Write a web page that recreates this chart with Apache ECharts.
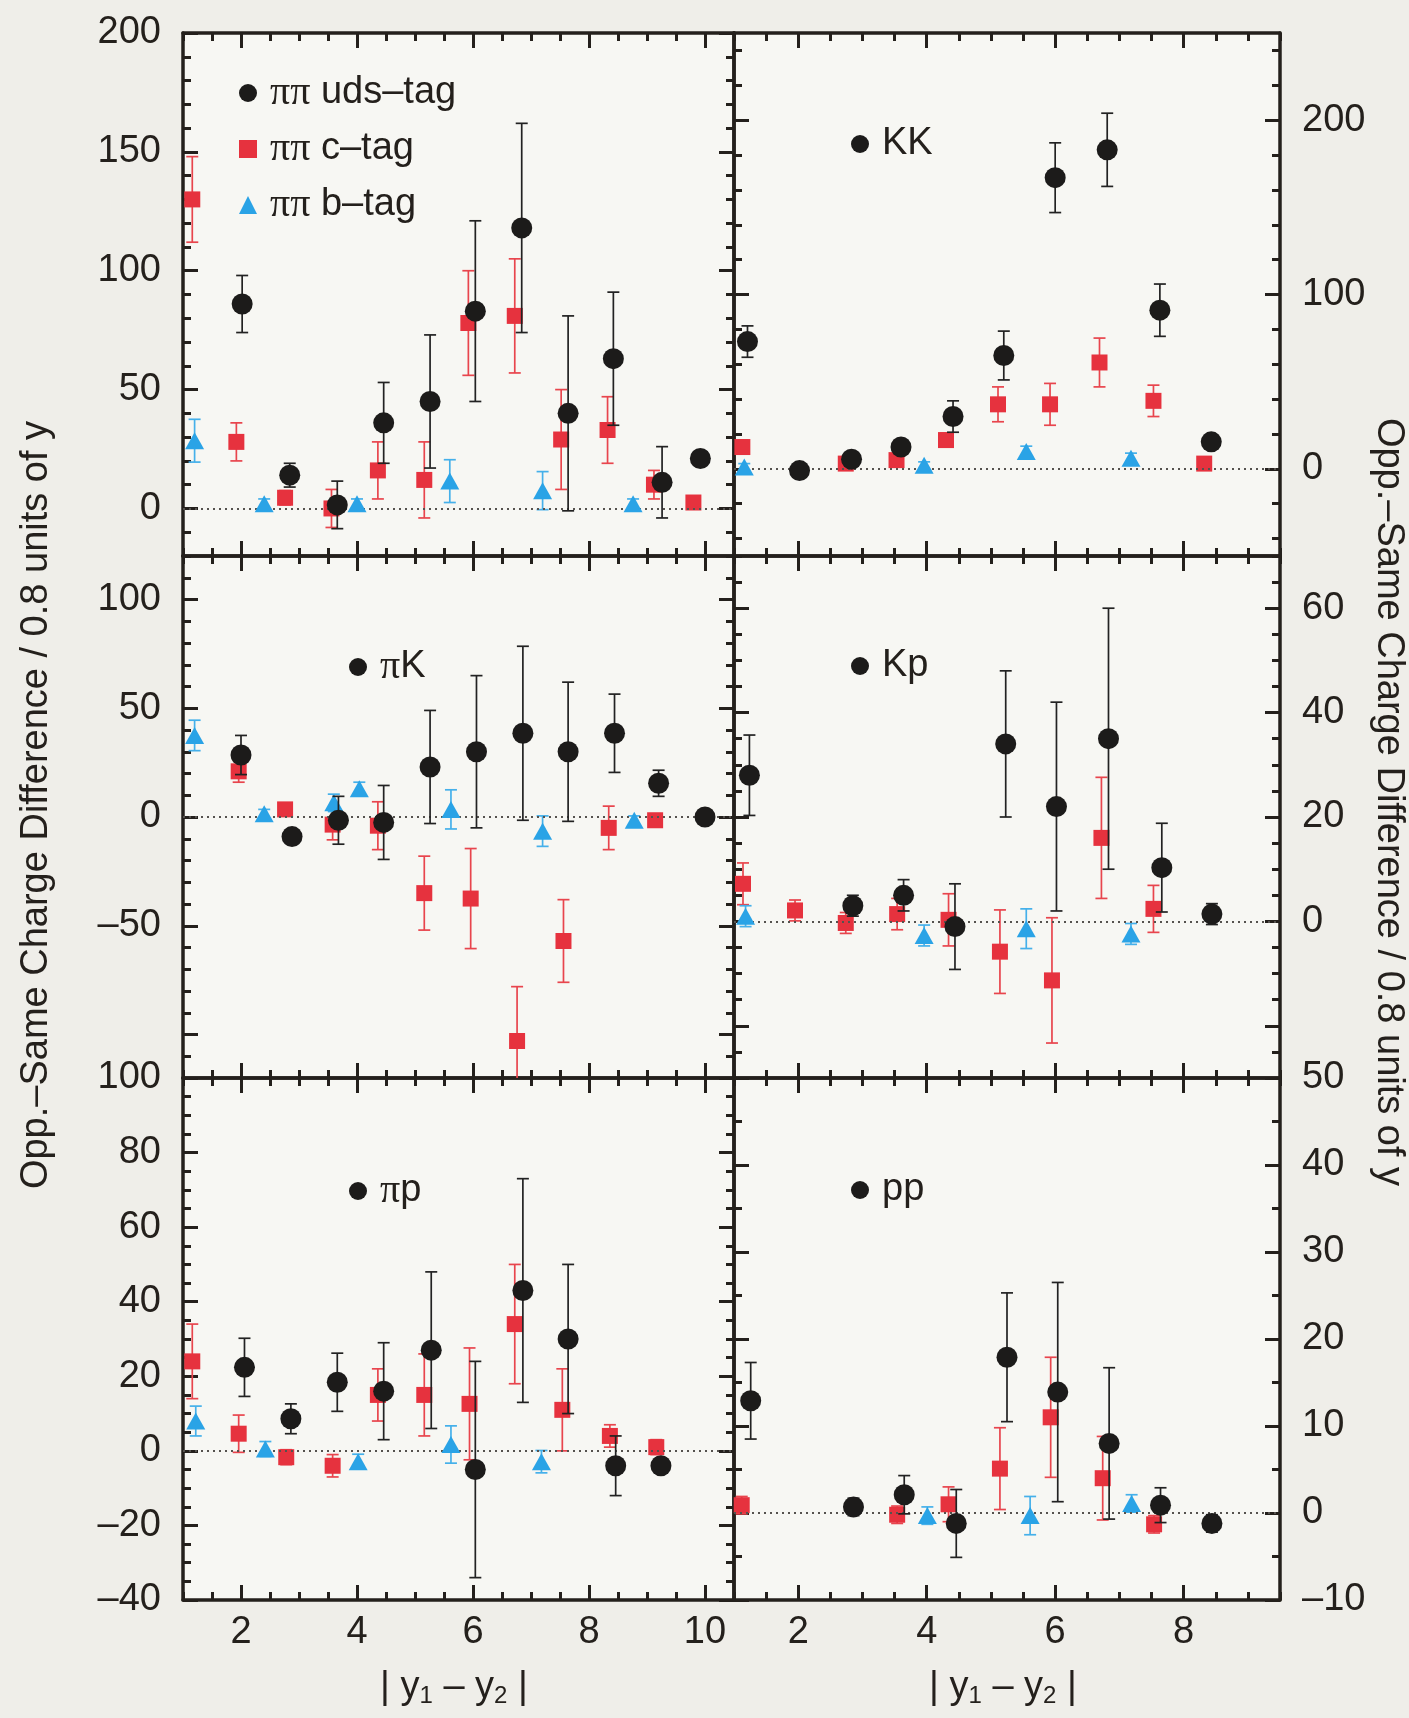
<!DOCTYPE html>
<html>
<head>
<meta charset="utf-8">
<script src="https://cdn.jsdelivr.net/npm/echarts@6/dist/echarts.min.js"></script>
<style>
  html, body { margin: 0; padding: 0; background: #efeee9; }
  #chart { width: 1409px; height: 1718px; }
</style>
</head>
<body>
<div id="chart"></div>
<script>
// Each point: [ |y1 - y2| , Opp.-Same charge difference , error ]

// pi pi pairs, split by event flavour tag
const pipiUds = [[2.02, 86, 12], [2.84, 14, 5], [3.66, 1.5, 10], [4.46, 36, 17], [5.26, 45, 28], [6.04, 83, 38],
                 [6.84, 118, 44], [7.64, 40, 41], [8.42, 63, 28], [9.26, 11, 15], [9.92, 21, 3]];
const pipiC   = [[1.16, 130, 18], [1.92, 28, 8], [2.76, 4.5, 3], [3.56, 0, 8], [4.36, 16, 12], [5.16, 12, 16],
                 [5.92, 78, 22], [6.72, 81, 24], [7.52, 29, 21], [8.32, 33, 14], [9.12, 10, 6], [9.80, 2.5, 2]];
const pipiB   = [[1.2, 28.5, 9], [2.4, 2, 2], [4.0, 2, 2], [5.6, 11.5, 9], [7.2, 7.5, 8], [8.76, 2, 2]];

// K K
const kkUds = [[1.21, 73, 9], [2.02, -1, 3], [2.83, 5.5, 3], [3.6, 12.5, 4], [4.41, 30, 9], [5.2, 65, 14],
               [6.0, 167, 20], [6.81, 183, 21], [7.63, 91, 15], [8.43, 15.5, 3]];
const kkC   = [[1.13, 12.5, 4], [2.74, 3, 3], [3.53, 5, 3], [4.3, 16.5, 4], [5.11, 37, 10], [5.92, 37, 12],
               [6.69, 61, 14], [7.53, 39, 9], [8.32, 3, 3]];
const kkB   = [[1.16, 1, 2], [3.96, 2, 2], [5.55, 10, 3], [7.18, 6, 3]];

// pi K
const piKUds = [[2.0, 28.5, 9], [2.88, -9, 3], [3.68, -1.5, 11], [4.46, -2.5, 17], [5.26, 23, 26], [6.06, 30, 35],
                [6.86, 38.5, 40], [7.64, 30, 32], [8.44, 38.5, 18], [9.2, 15.5, 6], [10.0, 0, 2]];
const piKC   = [[1.96, 21, 5], [2.76, 3.5, 3], [3.58, -3.5, 7], [4.36, -4, 11], [5.16, -35, 17], [5.96, -37.5, 23],
                [6.76, -103, 25], [7.56, -57, 19], [8.34, -5, 10], [9.14, -1.5, 3]];
const piKB   = [[1.2, 37.5, 7], [2.4, 1.5, 2], [3.6, 6.5, 4], [4.04, 13, 3], [5.62, 3.5, 9], [7.2, -6.5, 7], [8.78, -1.5, 2]];

// K p
const kpUds = [[1.24, 28, 7.7], [2.85, 3, 2], [3.64, 5, 3], [4.44, -1, 8.2], [5.23, 34, 14], [6.02, 22, 20],
               [6.83, 35, 25], [7.66, 10.3, 8.5], [8.44, 1.4, 2]];
const kpC   = [[1.14, 7.2, 4], [1.95, 2.1, 2], [2.74, -0.3, 2], [3.54, 1.4, 3], [4.34, 0.3, 5], [5.14, -5.8, 8],
               [5.95, -11.3, 12], [6.72, 16, 11.6], [7.53, 2.4, 4.5]];
const kpB   = [[1.18, 1, 2], [3.96, -2.7, 2], [5.55, -1.4, 3.8], [7.18, -2.4, 2]];

// pi p
const piPUds = [[2.06, 22.4, 7.8], [2.86, 8.6, 4], [3.66, 18.4, 7.8], [4.46, 16, 13], [5.28, 27, 21], [6.04, -5, 29],
                [6.86, 43, 30], [7.64, 30, 20], [8.46, -4, 8], [9.24, -4, 2]];
const piPC   = [[1.16, 24, 10], [1.96, 4.6, 5], [2.78, -1.7, 2], [3.58, -4, 3], [4.36, 15, 7], [5.16, 15, 11],
                [5.94, 12.6, 15], [6.72, 34, 16], [7.54, 11, 11], [8.36, 4, 3], [9.16, 1, 2]];
const piPB   = [[1.22, 8, 4], [2.42, 0.5, 2], [4.02, -2.9, 2], [5.62, 1.7, 5], [7.18, -2.9, 3]];

// p p
const ppUds = [[1.26, 12.9, 4.4], [2.86, 0.7, 1], [3.65, 2.1, 2.2], [4.46, -1.2, 3.9], [5.25, 17.9, 7.4],
               [6.04, 13.9, 12.6], [6.84, 8, 8.7], [7.64, 0.9, 2], [8.44, -1.2, 1]];
const ppC   = [[1.12, 0.9, 1], [3.54, -0.2, 1], [4.34, 1, 2], [5.14, 5.1, 4.7], [5.93, 11, 6.9], [6.74, 4, 4.8], [7.54, -1.3, 1]];
const ppB   = [[4.01, -0.3, 1], [5.61, -0.3, 2.2], [7.19, 1.1, 1]];

// axis ranges and tick labels
const X_LEFT  = { min: 1, max: 10.5, labels: [2, 4, 6, 8, 10], majors: [2, 4, 6, 8, 10], minorStep: 0.5 };
const X_RIGHT = { min: 1, max: 9.5,  labels: [2, 4, 6, 8],     majors: [2, 4, 6, 8],     minorStep: 0.5 };

const Y_PIPI = { min: -20,  max: 200, labels: [0, 50, 100, 150, 200], majors: [0, 50, 100, 150, 200], minorStep: 10 };
const Y_KK   = { min: -50,  max: 250, labels: [0, 100, 200],          majors: [0, 100, 200],          minorStep: 20 };
const Y_PIK  = { min: -120, max: 120, labels: [-50, 0, 50, 100],      majors: [-100, -50, 0, 50, 100], minorStep: 10 };
const Y_KP   = { min: -30,  max: 70,  labels: [0, 20, 40, 60],        majors: [-20, 0, 20, 40, 60],   minorStep: 5 };
const Y_PIP  = { min: -40,  max: 100, labels: [-40, -20, 0, 20, 40, 60, 80, 100], majors: [-40, -20, 0, 20, 40, 60, 80, 100], minorStep: 5 };
const Y_PP   = { min: -10,  max: 50,  labels: [-10, 0, 10, 20, 30, 40, 50], majors: [-10, 0, 10, 20, 30, 40, 50], minorStep: 5 };

const Y_TITLE = 'Opp.–Same Charge Difference / 0.8 units of y';

// page layout
const FONT = '"Liberation Sans", Arial, Helvetica, sans-serif';
const SERIF = '"Liberation Serif", "DejaVu Serif", serif';
const INK = '#24201c';
const FS = 38;
const ROW_TOP = [33, 556, 1078];
const ROW_H = [523, 522, 522];
const COL_LEFT = [183, 734];
const COL_W = [551, 546];

const STYLE = {
  uds: { symbol: 'circle',   size: 21,       fill: '#1c1b1a', bar: '#222' },
  c:   { symbol: 'rect',     size: 16,       fill: '#e6323e', bar: '#e8454d' },
  b:   { symbol: 'triangle', size: [19, 17], fill: '#2aa3e6', bar: '#45b0ea' }
};

const panels = [
  { row: 0, col: 0, X: X_LEFT,  Y: Y_PIPI, sets: { uds: pipiUds, c: pipiC, b: pipiB }, tag: 'ππ',
    names: { uds: 'ππ uds–tag', c: 'ππ c–tag', b: 'ππ b–tag' } },
  { row: 0, col: 1, X: X_RIGHT, Y: Y_KK,   sets: { uds: kkUds, c: kkC, b: kkB },     tag: 'KK' },
  { row: 1, col: 0, X: X_LEFT,  Y: Y_PIK,  sets: { uds: piKUds, c: piKC, b: piKB },  tag: 'πK' },
  { row: 1, col: 1, X: X_RIGHT, Y: Y_KP,   sets: { uds: kpUds, c: kpC, b: kpB },     tag: 'Kp' },
  { row: 2, col: 0, X: X_LEFT,  Y: Y_PIP,  sets: { uds: piPUds, c: piPC, b: piPB },  tag: 'πp' },
  { row: 2, col: 1, X: X_RIGHT, Y: Y_PP,   sets: { uds: ppUds, c: ppC, b: ppB },     tag: 'pp' }
];

function ticks(min, max, step) {
  const out = [];
  for (let v = Math.ceil(min / step - 1e-9) * step; v <= max + 1e-9; v += step) {
    out.push(Math.round(v * 1000) / 1000);
  }
  return out;
}

const minusSign = v => String(v).replace('-', '–');

function makeAxis(gridIndex, position, range, tickValues, labelValues, major, isY) {
  return {
    type: 'value', gridIndex, position, min: range.min, max: range.max, silent: true,
    axisLine: { show: major, onZero: false, lineStyle: { color: INK, width: 3.5 } },
    axisTick: { show: true, inside: true, length: major ? 15 : 8, customValues: tickValues,
                lineStyle: { color: INK, width: 3 } },
    axisLabel: labelValues
      ? { show: true, customValues: labelValues, margin: isY ? 22 : 14, color: INK, fontSize: FS,
          fontFamily: FONT, showMinLabel: true, showMaxLabel: true, formatter: minusSign }
      : { show: false },
    splitLine: { show: false }, splitArea: { show: false }, minorTick: { show: false }
  };
}

function errorBars(name, data, color, axisIndex, z) {
  return {
    type: 'custom', name, xAxisIndex: axisIndex, yAxisIndex: axisIndex, silent: true, z,
    data: data.map(d => [d[0], d[1], d[2]]),
    encode: { x: 0, y: 1 },
    renderItem(params, api) {
      const x = api.value(0), y = api.value(1), e = api.value(2);
      const cs = params.coordSys;
      const hi = api.coord([x, y + e]), lo = api.coord([x, y - e]);
      const yMin = cs.y, yMax = cs.y + cs.height;
      const yt = Math.max(yMin, Math.min(yMax, hi[1]));
      const yb = Math.max(yMin, Math.min(yMax, lo[1]));
      const cx = hi[0], hw = 6;
      const style = { stroke: color, lineWidth: 1.7 };
      const children = [{ type: 'line', shape: { x1: cx, y1: yt, x2: cx, y2: yb }, style }];
      if (hi[1] >= yMin) children.push({ type: 'line', shape: { x1: cx - hw, y1: yt, x2: cx + hw, y2: yt }, style });
      if (lo[1] <= yMax) children.push({ type: 'line', shape: { x1: cx - hw, y1: yb, x2: cx + hw, y2: yb }, style });
      return { type: 'group', children };
    }
  };
}

function points(name, data, st, axisIndex, z) {
  return {
    type: 'scatter', name, xAxisIndex: axisIndex, yAxisIndex: axisIndex, z,
    symbol: st.symbol, symbolSize: st.size,
    itemStyle: { color: st.fill, opacity: 1 },
    emphasis: { disabled: true },
    data: data.map(d => [d[0], d[1]])
  };
}

const piRich = {
  g: { fontFamily: SERIF, fontSize: FS + 2, color: INK }
};
const withPi = name => name.replace(/π+/g, m => '{g|' + m + '}');

const option = {
  backgroundColor: '#efeee9',
  animation: false,
  grid: [], xAxis: [], yAxis: [], series: [], legend: [], graphic: []
};

panels.forEach((p, i) => {
  const base = i * 4;
  option.grid.push({
    left: COL_LEFT[p.col], top: ROW_TOP[p.row], width: COL_W[p.col], height: ROW_H[p.row],
    show: true, backgroundColor: '#f7f7f3', borderWidth: 0, containLabel: false, outerBoundsMode: 'none'
  });

  const xLabels = p.row === 2 ? p.X.labels : null;
  const xMinor = ticks(p.X.min, p.X.max, p.X.minorStep);
  option.xAxis.push(makeAxis(i, 'bottom', p.X, p.X.majors, xLabels, true, false));
  option.xAxis.push(makeAxis(i, 'bottom', p.X, xMinor, null, false, false));
  option.xAxis.push(makeAxis(i, 'top', p.X, p.X.majors, null, true, false));
  option.xAxis.push(makeAxis(i, 'top', p.X, xMinor, null, false, false));

  const yMinor = ticks(p.Y.min, p.Y.max, p.Y.minorStep);
  option.yAxis.push(makeAxis(i, 'left', p.Y, p.Y.majors, p.col === 0 ? p.Y.labels : null, true, true));
  option.yAxis.push(makeAxis(i, 'left', p.Y, yMinor, null, false, true));
  option.yAxis.push(makeAxis(i, 'right', p.Y, p.Y.majors, p.col === 1 ? p.Y.labels : null, true, true));
  option.yAxis.push(makeAxis(i, 'right', p.Y, yMinor, null, false, true));

  const names = p.names || { uds: p.tag, c: p.tag + ' c–tag', b: p.tag + ' b–tag' };

  // dotted zero reference
  option.series.push({
    type: 'line', name: p.tag + ' zero', xAxisIndex: base, yAxisIndex: base, data: [], z: 1, silent: true,
    markLine: {
      silent: true, symbol: 'none', label: { show: false }, animation: false,
      lineStyle: { type: [2, 4], color: '#55524e', width: 2 },
      data: [{ yAxis: 0 }]
    }
  });

  option.series.push(errorBars(names.c + ' err', p.sets.c, STYLE.c.bar, base, 2));
  option.series.push(points(names.c, p.sets.c, STYLE.c, base, 3));
  option.series.push(errorBars(names.b + ' err', p.sets.b, STYLE.b.bar, base, 4));
  option.series.push(points(names.b, p.sets.b, STYLE.b, base, 5));
  option.series.push(errorBars(names.uds + ' err', p.sets.uds, STYLE.uds.bar, base, 6));
  option.series.push(points(names.uds, p.sets.uds, STYLE.uds, base, 7));
});

const legendText = { color: INK, fontSize: FS, fontFamily: FONT, lineHeight: 34, padding: [0, 0, 0, 8], rich: piRich };

// flavour legend inside the pi pi panel
option.legend.push({
  orient: 'vertical', left: 234, top: 68, itemWidth: 18, itemHeight: 18, itemGap: 16, selectedMode: false,
  data: [
    { name: 'ππ uds–tag', icon: 'circle' },
    { name: 'ππ c–tag', icon: 'rect' },
    { name: 'ππ b–tag', icon: 'triangle' }
  ],
  formatter: withPi, textStyle: legendText
});

// pair-type labels in the other panels
const tagSpots = { 'KK': [846, 120], 'πK': [344, 642], 'Kp': [846, 642], 'πp': [344, 1166], 'pp': [846, 1166] };
Object.keys(tagSpots).forEach(t => {
  option.legend.push({
    left: tagSpots[t][0], top: tagSpots[t][1], itemWidth: 18, itemHeight: 18, selectedMode: false,
    data: [{ name: t, icon: 'circle' }],
    formatter: withPi, textStyle: legendText
  });
});

// axis titles
const titleStyle = { fill: INK, font: FS + 'px ' + FONT, align: 'center', verticalAlign: 'middle',
                     textAlign: 'center', textVerticalAlign: 'middle' };
option.graphic.push({ type: 'text', x: 37, y: 805, rotation: Math.PI / 2, silent: true,
                      style: Object.assign({ text: Y_TITLE }, titleStyle) });
option.graphic.push({ type: 'text', x: 1388, y: 802, rotation: -Math.PI / 2, silent: true,
                      style: Object.assign({ text: Y_TITLE }, titleStyle) });
const xTitleRich = {
  b: { fontSize: FS, fontFamily: FONT, color: INK },
  s: { fontSize: 24, fontFamily: FONT, color: INK, padding: [16, 0, 0, 0] }
};
[454, 1003].forEach(cx => {
  option.graphic.push({
    type: 'text', x: cx, y: 1688, silent: true,
    style: Object.assign({}, titleStyle, {
      text: '{b|| y}{s|1}{b| – y}{s|2}{b| |}', rich: xTitleRich
    })
  });
});

const chart = echarts.init(document.getElementById('chart'), null, { renderer: 'canvas' });
chart.setOption(option);
</script>
</body>
</html>
